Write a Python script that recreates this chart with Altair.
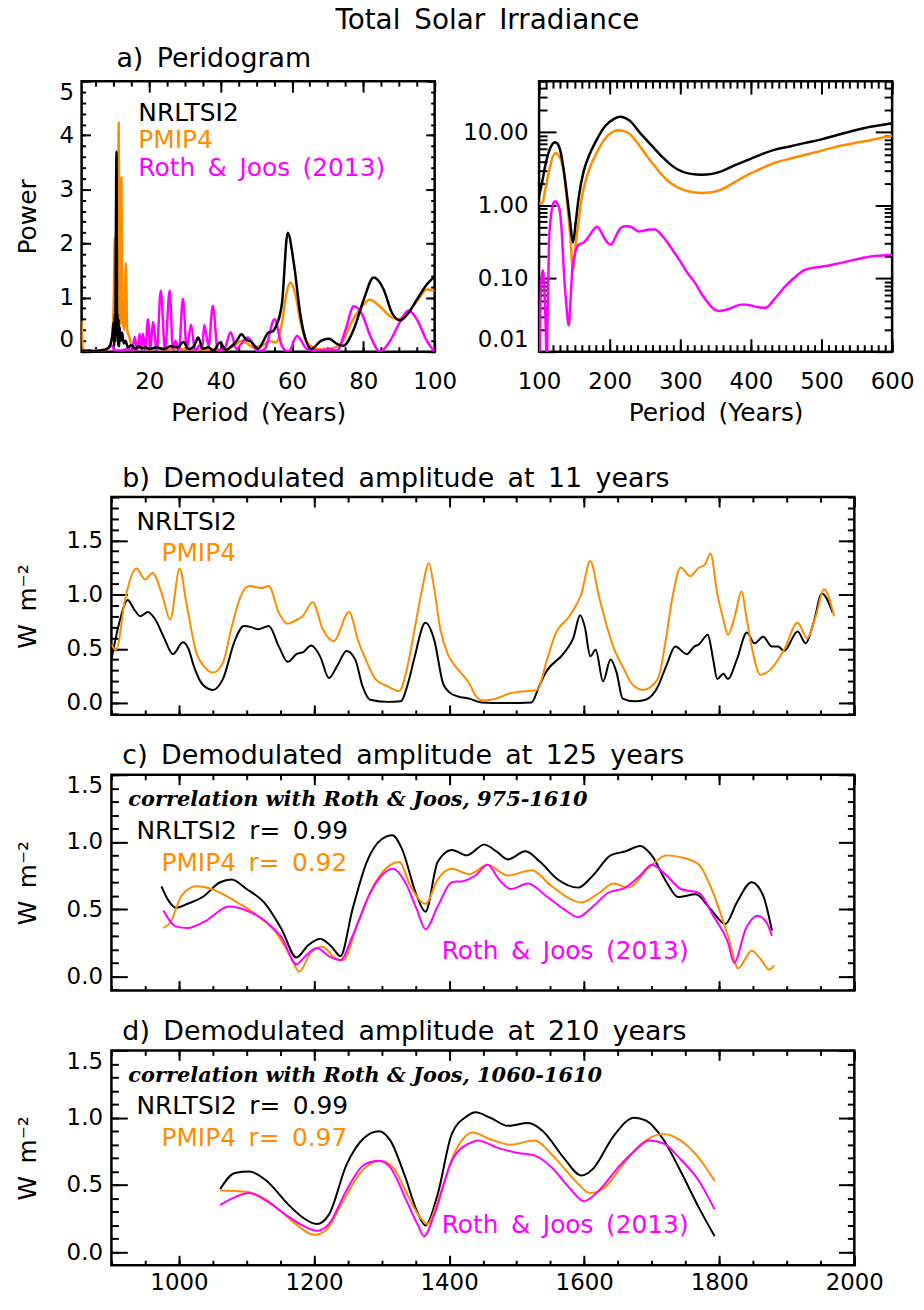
import altair as alt
import pandas as pd

# ---------------------------------------------------------------- data
SERIES = ["NRLTSI2", "PMIP4", "Roth & Joos (2013)"]
COLORS = ["#000000", "#FF8C00", "#FF00FF"]

# a) periodogram, periods 1-100 years: (period, power)
PA_NRL = [(1, 0.01), (3, 0.02), (5, 0.01), (7, 0.03), (8, 0.05), (9, 0.12), (9.6, 0.3),
          (10.0, 0.55), (10.15, 0.1), (10.3, 0.7), (10.45, 0.2), (10.6, 2.1), (10.8, 3.7),
          (10.95, 0.3), (11.1, 0.7), (11.25, 0.1), (11.4, 0.6), (11.55, 0.1), (11.7, 0.45),
          (12.0, 0.2), (12.4, 0.35), (12.8, 0.15), (13.3, 0.2), (14, 0.08), (15, 0.12),
          (16, 0.05), (17, 0.1), (18, 0.06), (19, 0.08), (20, 0.05), (22, 0.08), (24, 0.05),
          (26, 0.1), (28, 0.08), (29.5, 0.18), (31, 0.05), (32.5, 0.1), (33.7, 0.26),
          (35, 0.05), (36.5, 0.08), (38, 0.02), (39.8, 0.17), (41.5, 0.03), (43, 0.1),
          (44.5, 0.2), (45.8, 0.32), (47.2, 0.22), (48.6, 0.18), (50.5, 0.05), (52, 0.2),
          (53.3, 0.35), (54.7, 0.38), (55.4, 0.45), (57.2, 0.9), (58.8, 2.2), (60.5, 1.64),
          (62.4, 0.66), (63.8, 0.23), (65.4, 0.05), (68.1, 0.2), (70.4, 0.24), (72.7, 0.14),
          (74.4, 0.11), (77.3, 0.41), (80.1, 0.96), (82.9, 1.37), (85.7, 1.15), (88, 0.72),
          (90.3, 0.58), (92.7, 0.72), (95, 0.96), (97.8, 1.24), (100, 1.39)]
PA_PMIP = [(1, 0.57), (1.3, 0.1), (2, 0.02), (5, 0.02), (8, 0.05), (9.5, 0.2), (10.0, 0.9),
           (10.3, 2.1), (10.6, 0.5), (10.9, 1.0), (11.15, 0.4), (11.4, 4.23), (11.65, 0.8),
           (11.9, 0.5), (12.16, 3.22), (12.5, 0.6), (13.0, 0.4), (13.4, 1.64), (13.8, 0.4),
           (14.5, 0.25), (15, 0.1), (16, 0.05), (18, 0.08), (20, 0.04), (22, 0.06), (25, 0.04),
           (28, 0.06), (30, 0.04), (33, 0.05), (36, 0.03), (38, 0.05), (40, 0.03), (42, 0.05),
           (44, 0.12), (45.8, 0.2), (47.5, 0.15), (49, 0.08), (50.5, 0.1), (52, 0.12),
           (53.5, 0.2), (55.5, 0.17), (57.2, 0.54), (58.5, 1.1), (59.6, 1.28), (61, 1.05),
           (62.4, 0.54), (64.2, 0.17), (66, 0.08), (68, 0.04), (70, 0.05), (72.9, 0.1),
           (74.5, 0.22), (76.2, 0.48), (79, 0.78), (81.8, 0.96), (84.6, 0.84), (87.4, 0.66),
           (89.7, 0.6), (92.5, 0.72), (95.3, 0.96), (97.8, 1.15), (100, 1.12)]
PA_ROTH = [(1, 0.01), (4, 0.01), (8, 0.03), (9.5, 0.12), (10.2, 0.02), (12, 0.02), (14, 0.05),
           (15.2, 0.02), (15.9, 0.27), (16.6, 0.02), (17.3, 0.33), (17.75, 0.05), (18.2, 0.33),
           (18.9, 0.02), (19.6, 0.6), (20.3, 0.05), (21.0, 0.55), (22.1, 0.02), (23.2, 1.13),
           (24.4, 0.02), (25.7, 1.13), (26.6, 0.05), (27.3, 0.2), (28.3, 0.02), (29.4, 0.98),
           (30.5, 0.05), (31.7, 0.5), (32.8, 0.02), (34.2, 0.12), (34.8, 0.05), (35.4, 0.5),
           (36.6, 0.1), (37.8, 0.85), (39.2, 0.02), (41, 0.05), (42.8, 0.36), (44.4, 0.05),
           (45.8, 0.15), (47.6, 0.26), (50.5, 0.0), (52.4, 0.05), (55.1, 0.6), (57.2, 0.1),
           (59, 0.0), (61.4, 0.29), (64.2, 0.05), (66.9, 0.02), (70.7, 0.04), (72.6, 0.02),
           (75, 0.4), (77.3, 0.84), (79.6, 0.7), (81.9, 0.3), (84.7, 0.0), (87.5, 0.2),
           (90.3, 0.55), (92.7, 0.76), (95, 0.6), (97.8, 0.2), (100, 0.0)]

# a) periodogram, periods 100-600 years (log power)
PR_NRL = [(100, 1.34), (104, 2.0), (109, 3.6), (115, 5.8), (122.5, 7.3), (126, 7.0),
          (130.5, 5.4), (135, 3.0), (140, 1.26), (144, 0.6), (148, 0.31), (152, 0.6),
          (156, 1.26), (163, 2.9), (170, 4.6), (180, 7.4), (194, 12.3), (205, 15.0),
          (215, 16.3), (227, 14.7), (245.5, 9.2), (260, 6.5), (274, 4.66), (288, 3.5),
          (302, 2.92), (315, 2.7), (330, 2.63), (345, 2.7), (358, 2.92), (376, 3.5),
          (396, 4.2), (415, 5.0), (433, 5.74), (455, 6.4), (475.6, 7.1), (500, 8.0),
          (522.5, 9.2), (545, 10.5), (569.5, 11.9), (585, 12.6), (600, 13.3)]
PR_PMIP = [(100, 1.06), (104.7, 1.07), (109, 1.7), (114, 2.9), (118, 4.2), (123.5, 5.2),
           (128, 4.8), (133, 3.6), (137, 2.0), (140, 1.03), (144, 0.4), (148, 0.13),
           (152, 0.3), (156, 0.62), (160, 1.2), (165.7, 2.14), (172, 3.3), (180, 4.9),
           (194, 8.3), (212.7, 10.7), (227, 9.7), (240, 7.0), (255, 4.4), (270, 2.9),
           (283, 2.14), (297, 1.75), (311, 1.56), (330, 1.48), (345, 1.52), (358, 1.64),
           (376, 2.05), (396, 2.63), (415, 3.2), (433, 3.8), (455, 4.35), (475.6, 4.9),
           (500, 5.6), (522.5, 6.4), (545, 7.1), (569.5, 7.8), (585, 8.4), (600, 9.0)]
PR_ROTH = [(100, 0.005), (102, 0.05), (104, 0.11), (105.6, 0.13), (107.5, 0.07), (109.5, 0.02),
           (110.8, 0.005), (112, 0.03), (114, 0.29), (116, 0.6), (118.8, 0.97), (121, 1.1),
           (123.5, 1.14), (126, 1.05), (129, 0.88), (132, 0.45), (135, 0.13), (138.5, 0.045),
           (142, 0.023), (144.5, 0.05), (147, 0.13), (150, 0.2), (156, 0.29), (163, 0.31),
           (170, 0.37), (176, 0.45), (182, 0.51), (186, 0.47), (191.5, 0.37), (197, 0.31),
           (202, 0.29), (207, 0.35), (212.7, 0.45), (218, 0.51), (222, 0.52), (227, 0.52),
           (231.5, 0.50), (237, 0.46), (241, 0.44), (248, 0.45), (255, 0.47), (264, 0.47),
           (270, 0.43), (276, 0.37), (284, 0.29), (292.5, 0.22), (302, 0.16), (311, 0.116),
           (320, 0.09), (330, 0.062), (337, 0.05), (344, 0.041), (350, 0.037), (356, 0.036),
           (362, 0.037), (367.6, 0.038), (376, 0.041), (386, 0.044), (393, 0.044), (400, 0.043),
           (408, 0.041), (414.6, 0.04), (420, 0.04), (424, 0.041), (430, 0.048), (438, 0.059),
           (447, 0.075), (457, 0.094), (466, 0.112), (475.6, 0.13), (487, 0.14), (499, 0.145),
           (522.5, 0.16), (546, 0.18), (569.5, 0.2), (600, 0.21)]

# b) demodulated amplitude at 11 years: (year, W m-2)
B_NRL = [(900, 0.40), (912, 0.75), (924, 0.95), (934, 0.86), (943, 0.80), (954, 0.84),
         (965, 0.77), (978, 0.60), (991, 0.45), (1006, 0.56), (1014, 0.50), (1022, 0.34),
         (1035, 0.17), (1050, 0.12), (1065, 0.22), (1083, 0.58), (1096, 0.71), (1107, 0.70),
         (1117, 0.68), (1133, 0.71), (1148, 0.52), (1161, 0.38), (1174, 0.45), (1184, 0.47),
         (1196, 0.53), (1209, 0.43), (1222, 0.23), (1235, 0.35), (1248, 0.48), (1261, 0.40),
         (1272, 0.15), (1283, 0.03), (1309, 0.01), (1328, 0.015), (1340, 0.20), (1348, 0.40),
         (1365, 0.74), (1378, 0.58), (1391, 0.18), (1400, 0.10), (1413, 0.06), (1430, 0.04),
         (1448, 0.005), (1483, 0.0), (1522, 0.005), (1533, 0.15), (1543, 0.28), (1570, 0.46),
         (1584, 0.60), (1594, 0.81), (1601, 0.70), (1609, 0.43), (1617, 0.49), (1628, 0.20),
         (1639, 0.40), (1648, 0.28), (1657, 0.04), (1674, 0.015), (1691, 0.03), (1709, 0.15),
         (1722, 0.35), (1735, 0.52), (1752, 0.45), (1763, 0.52), (1770, 0.54), (1783, 0.63),
         (1791, 0.40), (1797, 0.22), (1806, 0.27), (1813, 0.22), (1826, 0.40), (1841, 0.65),
         (1852, 0.55), (1865, 0.61), (1878, 0.52), (1887, 0.52), (1896, 0.48), (1916, 0.66),
         (1928, 0.55), (1940, 0.75), (1952, 1.01), (1968, 0.83)]
B_PMIP = [(900, 0.54), (907, 0.49), (920, 0.95), (937, 1.24), (950, 1.14), (961, 1.20),
          (975, 1.00), (987, 0.77), (1001, 1.24), (1011, 0.92), (1026, 0.46), (1038, 0.33),
          (1050, 0.28), (1065, 0.37), (1078, 0.70), (1091, 0.98), (1104, 1.08), (1122, 1.06),
          (1133, 1.08), (1148, 0.83), (1161, 0.73), (1172, 0.76), (1183, 0.80), (1198, 0.93),
          (1213, 0.68), (1229, 0.57), (1252, 0.84), (1265, 0.58), (1278, 0.38), (1291, 0.22),
          (1310, 0.15), (1326, 0.11), (1337, 0.30), (1348, 0.65), (1360, 1.05), (1370, 1.29),
          (1378, 1.05), (1387, 0.68), (1398, 0.45), (1409, 0.34), (1420, 0.26), (1430, 0.18),
          (1439, 0.07), (1448, 0.025), (1462, 0.03), (1474, 0.05), (1490, 0.09), (1500, 0.10),
          (1530, 0.12), (1545, 0.40), (1557, 0.63), (1578, 0.80), (1596, 1.01), (1609, 1.31),
          (1622, 0.98), (1643, 0.52), (1660, 0.30), (1670, 0.18), (1687, 0.12), (1709, 0.22),
          (1720, 0.55), (1730, 0.95), (1743, 1.25), (1757, 1.17), (1770, 1.25), (1778, 1.27),
          (1787, 1.38), (1797, 1.01), (1805, 0.80), (1813, 0.63), (1823, 0.80), (1833, 1.03),
          (1840, 0.80), (1848, 0.52), (1861, 0.26), (1876, 0.31), (1896, 0.49), (1916, 0.74),
          (1930, 0.60), (1943, 0.80), (1955, 1.05), (1970, 0.80)]

# c) demodulated amplitude at 125 years
C_NRL = [(974, 0.67), (985, 0.56), (996, 0.51), (1013, 0.54), (1035, 0.59), (1061, 0.70),
         (1078, 0.72), (1100, 0.65), (1126, 0.55), (1152, 0.35), (1174, 0.14), (1191, 0.23),
         (1209, 0.28), (1226, 0.22), (1239, 0.15), (1257, 0.50), (1278, 0.85), (1300, 1.02),
         (1316, 1.05), (1330, 0.95), (1352, 0.60), (1365, 0.48), (1383, 0.85), (1404, 0.94),
         (1426, 0.90), (1452, 0.98), (1470, 0.93), (1487, 0.87), (1513, 0.93), (1535, 0.85),
         (1561, 0.72), (1591, 0.66), (1613, 0.75), (1639, 0.90), (1661, 0.93), (1683, 0.97),
         (1700, 0.90), (1722, 0.70), (1739, 0.59), (1765, 0.61), (1787, 0.50), (1809, 0.39),
         (1826, 0.55), (1848, 0.70), (1865, 0.60), (1878, 0.34)]
C_PMIP = [(977, 0.36), (987, 0.40), (1004, 0.60), (1026, 0.67), (1048, 0.65), (1083, 0.56),
          (1117, 0.45), (1143, 0.33), (1165, 0.15), (1178, 0.035), (1196, 0.18), (1213, 0.22),
          (1230, 0.14), (1243, 0.12), (1265, 0.40), (1291, 0.70), (1313, 0.83), (1326, 0.85),
          (1343, 0.67), (1365, 0.54), (1383, 0.72), (1404, 0.80), (1430, 0.76), (1457, 0.83),
          (1487, 0.75), (1522, 0.79), (1552, 0.67), (1596, 0.55), (1622, 0.62), (1643, 0.69),
          (1665, 0.66), (1696, 0.81), (1722, 0.90), (1748, 0.88), (1770, 0.83), (1791, 0.62),
          (1813, 0.30), (1828, 0.06), (1848, 0.19), (1861, 0.13), (1874, 0.05), (1881, 0.08)]
C_ROTH = [(977, 0.49), (996, 0.37), (1013, 0.36), (1039, 0.41), (1074, 0.52), (1100, 0.49),
          (1135, 0.38), (1152, 0.29), (1174, 0.09), (1187, 0.15), (1204, 0.21), (1222, 0.15),
          (1239, 0.12), (1257, 0.30), (1283, 0.62), (1300, 0.75), (1317, 0.80), (1335, 0.70),
          (1352, 0.50), (1365, 0.35), (1383, 0.52), (1404, 0.70), (1422, 0.71), (1439, 0.75),
          (1457, 0.83), (1474, 0.72), (1491, 0.65), (1517, 0.69), (1543, 0.60), (1570, 0.50),
          (1591, 0.44), (1613, 0.52), (1635, 0.62), (1661, 0.66), (1683, 0.75), (1700, 0.83),
          (1722, 0.75), (1743, 0.65), (1770, 0.62), (1791, 0.45), (1813, 0.25), (1822, 0.10),
          (1839, 0.35), (1857, 0.45), (1870, 0.40), (1878, 0.30)]

# d) demodulated amplitude at 210 years
D_NRL = [(1061, 0.47), (1083, 0.59), (1104, 0.60), (1130, 0.53), (1161, 0.36), (1183, 0.26),
         (1204, 0.21), (1222, 0.28), (1248, 0.65), (1274, 0.85), (1296, 0.90), (1313, 0.83),
         (1335, 0.56), (1352, 0.31), (1365, 0.20), (1383, 0.43), (1404, 0.88), (1426, 1.01),
         (1439, 1.04), (1461, 1.00), (1487, 0.94), (1517, 0.96), (1539, 0.90), (1570, 0.70),
         (1596, 0.57), (1613, 0.62), (1643, 0.86), (1674, 1.00), (1691, 0.98), (1717, 0.84),
         (1743, 0.60), (1770, 0.33), (1793, 0.12)]
D_PMIP = [(1061, 0.46), (1100, 0.45), (1126, 0.40), (1152, 0.30), (1178, 0.19), (1200, 0.13),
          (1217, 0.16), (1243, 0.38), (1270, 0.60), (1298, 0.68), (1317, 0.63), (1339, 0.42),
          (1357, 0.26), (1368, 0.21), (1383, 0.38), (1409, 0.75), (1435, 0.89), (1461, 0.84),
          (1491, 0.80), (1526, 0.83), (1557, 0.70), (1587, 0.53), (1609, 0.44), (1630, 0.48),
          (1657, 0.65), (1683, 0.80), (1717, 0.88), (1743, 0.83), (1770, 0.70), (1793, 0.53)]
D_ROTH = [(1061, 0.35), (1083, 0.41), (1104, 0.44), (1130, 0.38), (1161, 0.27), (1183, 0.20),
          (1204, 0.16), (1222, 0.21), (1248, 0.46), (1274, 0.65), (1296, 0.68), (1313, 0.63),
          (1339, 0.36), (1354, 0.20), (1363, 0.12), (1378, 0.28), (1404, 0.68), (1430, 0.81),
          (1443, 0.83), (1470, 0.78), (1500, 0.74), (1526, 0.72), (1552, 0.63), (1578, 0.48),
          (1600, 0.38), (1622, 0.46), (1652, 0.64), (1674, 0.75), (1696, 0.83), (1717, 0.81),
          (1743, 0.69), (1770, 0.53), (1793, 0.32)]

# tick values
A_X_MAJOR = [20, 40, 60, 80, 100]
A_Y_MAJOR = [0, 1, 2, 3, 4, 5]
R_X_MAJOR = [100, 200, 300, 400, 500, 600]
R_Y_MAJOR = [0.01, 0.1, 1, 10]
T_X_MAJOR = [1000, 1200, 1400, 1600, 1800, 2000]
T_Y_MAJOR = [0.0, 0.5, 1.0, 1.5]

# ---------------------------------------------------------------- style
FONT = "DejaVu Sans"
SERIF = "DejaVu Serif"
EN = "\u2002"
TXT = 25
TITLE_SIZE = 27


def steps(a, b, step):
    n = int(round((b - a) / step))
    return [round(a + i * step, 6) for i in range(n + 1)]


def log_minor(lo_exp, hi_exp, top):
    out = []
    for e in range(lo_exp, hi_exp + 1):
        for m in range(2, 10):
            v = m * 10.0 ** e
            if v <= top:
                out.append(round(v, 6))
    return out


def to_df(pairs):
    return pd.DataFrame({"x": [p[0] for p in pairs], "y": [p[1] for p in pairs]})


def ax(orient, values, size, labels=False, **kw):
    spec = dict(orient=orient, values=values, tickSize=size, offset=-size, domain=False,
                grid=False, labels=labels, ticks=True, tickWidth=2, tickColor="black",
                labelOverlap=False, title=None)
    spec.update(kw)
    return alt.Axis(**spec)


def words(*w):
    return EN.join(w)


def panel(series, xs, ys, dummy, lw, axes_main, axes_extra, texts):
    layers = []
    for i, (pairs, color) in enumerate(series):
        if i == 0:
            xa, ya = axes_main
        else:
            xa, ya = None, None
        layers.append(
            alt.Chart(to_df(pairs)).mark_line(interpolate="monotone", strokeWidth=lw,
                                              clip=True, color=color).encode(
                x=alt.X("x:Q", scale=xs, axis=xa),
                y=alt.Y("y:Q", scale=ys, axis=ya)))
    for xa, ya in axes_extra:
        layers.append(alt.Chart(dummy).mark_point(opacity=0).encode(
            x=alt.X("x:Q", scale=xs, axis=xa), y=alt.Y("y:Q", scale=ys, axis=ya)))
    for tdf, font, size, extra in texts:
        props = dict(align="left", baseline="middle", font=font, fontSize=size)
        props.update(extra)
        layers.append(alt.Chart(tdf).mark_text(**props).encode(
            x=alt.X("x:Q", scale=xs, axis=None), y=alt.Y("y:Q", scale=ys, axis=None),
            text="t:N", color=alt.Color("c:N", scale=None)))
    return alt.layer(*layers).resolve_axis(x="independent", y="independent")


def title_df(x, y, text):
    return pd.DataFrame({"x": [x], "y": [y], "t": [text], "c": ["#000000"]})


TITLE_MARK = (FONT, TITLE_SIZE, {"baseline": "alphabetic"})

# ---------------- panel a (left)
xa_s = alt.Scale(domain=[1, 100], nice=False, zero=False)
ya_s = alt.Scale(domain=[0, 5], nice=False, zero=False)
dum_a = pd.DataFrame({"x": [1], "y": [0]})
a_main = (ax("bottom", A_X_MAJOR, 11, labels=True, labelPadding=19, labelFlush=False,
             format="d", title=words("Period", "(Years)"), titlePadding=7),
          ax("left", A_Y_MAJOR, 9, labels=True, labelPadding=8, labelFlush=True,
             format="d", title="Power", titlePadding=19))
a_extra = [(ax("top", A_X_MAJOR, 11), ax("right", A_Y_MAJOR, 9)),
           (ax("bottom", steps(5, 100, 5), 5), ax("left", steps(0, 5, 0.2), 4)),
           (ax("top", steps(5, 100, 5), 5), ax("right", steps(0, 5, 0.2), 4))]
a_txt = pd.DataFrame({"x": [16.9, 16.9, 16.9], "y": [4.41, 3.92, 3.40],
                      "t": ["NRLTSI2", "PMIP4", words("Roth", "&", "Joos", "(2013)")],
                      "c": COLORS})
pa = panel([(PA_PMIP, COLORS[1]), (PA_ROTH, COLORS[2]), (PA_NRL, COLORS[0])],
           xa_s, ya_s, dum_a, 2.5, a_main, a_extra,
           [(a_txt, FONT, TXT, {}),
            (title_df(10.76, 5.267, words("a)", "Peridogram")),) + TITLE_MARK]
           ).properties(width=355, height=272)

# ---------------- panel a (right, log)
xr_s = alt.Scale(domain=[100, 600], nice=False, zero=False)
yr_s = alt.Scale(type="log", domain=[0.01, 50], nice=False)
dum_r = pd.DataFrame({"x": [100], "y": [0.01]})
r_main = (ax("bottom", R_X_MAJOR, 13, labels=True, labelPadding=19, labelFlush=False,
             format="d", title=words("Period", "(Years)"), titlePadding=7),
          ax("left", R_Y_MAJOR, 17, labels=True, labelPadding=11, labelFlush=True,
             format=".2f"))
r_minor_y = log_minor(-2, 1, 50)
r_extra = [(ax("top", R_X_MAJOR, 13), ax("right", R_Y_MAJOR, 17)),
           (ax("bottom", steps(100, 600, 10), 7), ax("left", r_minor_y, 8)),
           (ax("top", steps(100, 600, 10), 7), ax("right", r_minor_y, 8))]
pr = panel([(PR_PMIP, COLORS[1]), (PR_ROTH, COLORS[2]), (PR_NRL, COLORS[0])],
           xr_s, yr_s, dum_r, 2.5, r_main, r_extra,
           [(title_df(100, 78.7, "\u00a0"),) + TITLE_MARK]
           ).properties(width=355, height=272)

# ---------------- time panels b, c, d
xt_s = alt.Scale(domain=[900, 2000], nice=False, zero=False)
dum_t = pd.DataFrame({"x": [900], "y": [0]})
WM2 = "W" + EN + "m\u207b\u00b2"


def time_panel(series, ydom, height, texts, xlabels):
    ys = alt.Scale(domain=ydom, nice=False, zero=False)
    ymin = [v for v in steps(-0.1, 2.0, 0.1) if ydom[0] <= v <= ydom[1]]
    xmain = ax("bottom", T_X_MAJOR, 10, labels=xlabels, labelPadding=6, labelFlush=False,
               format="d")
    ymain = ax("left", T_Y_MAJOR, 16, labels=True, labelPadding=9, labelFlush=True,
               format=".1f", title=WM2, titlePadding=25.5)
    extra = [(ax("top", T_X_MAJOR, 10), ax("right", T_Y_MAJOR, 16)),
             (ax("bottom", steps(900, 2000, 50), 5), ax("left", ymin, 7)),
             (ax("top", steps(900, 2000, 50), 5), ax("right", ymin, 7))]
    return panel(series, xt_s, ys, dum_t, 2.0, (xmain, ymain), extra,
                 texts).properties(width=747, height=height)


def spacer():
    return alt.Chart(dum_t).mark_point(opacity=0).encode(
        x=alt.X("x:Q", axis=None), y=alt.Y("y:Q", axis=None)).properties(
        width=1, height=1, view=alt.ViewBackground(stroke="transparent", strokeWidth=0))


b_txt = pd.DataFrame({"x": [937, 974], "y": [1.67, 1.38], "t": ["NRLTSI2", "PMIP4"],
                      "c": COLORS[:2]})
pb = time_panel([(B_NRL, COLORS[0]), (B_PMIP, COLORS[1])], [-0.11, 1.9], 219,
                [(b_txt, FONT, TXT, {}),
                 (title_df(916.2, 1.992, words("b)", "Demodulated", "amplitude", "at", "11", "years")),) + TITLE_MARK],
                False)

ROTH_LBL = words("Roth", "&", "Joos", "(2013)")
c_txt = pd.DataFrame({"x": [937, 974, 1389], "y": [1.08, 0.84, 0.19],
                      "t": [words("NRLTSI2", "r=", "0.99"), words("PMIP4", "r=", "0.92"), ROTH_LBL],
                      "c": COLORS})
c_cor = title_df(925, 1.31, "correlation with Roth & Joos, 975-1610")
pc = time_panel([(C_NRL, COLORS[0]), (C_PMIP, COLORS[1]), (C_ROTH, COLORS[2])],
                [-0.106, 1.5], 217,
                [(c_txt, FONT, TXT, {}),
                 (c_cor, SERIF, 21, {"fontStyle": "italic", "fontWeight": "bold"}),
                 (title_df(916.2, 1.581, words("c)", "Demodulated", "amplitude", "at", "125", "years")),) + TITLE_MARK],
                False)

d_txt = pd.DataFrame({"x": [937, 974, 1389], "y": [1.086, 0.85, 0.20],
                      "t": [words("NRLTSI2", "r=", "0.99"), words("PMIP4", "r=", "0.97"), ROTH_LBL],
                      "c": COLORS})
d_cor = title_df(925, 1.31, "correlation with Roth & Joos, 1060-1610")
pd_ = time_panel([(D_NRL, COLORS[0]), (D_PMIP, COLORS[1]), (D_ROTH, COLORS[2])],
                 [-0.096, 1.5], 216,
                 [(d_txt, FONT, TXT, {}),
                  (d_cor, SERIF, 21, {"fontStyle": "italic", "fontWeight": "bold"}),
                  (title_df(916.2, 1.581, words("d)", "Demodulated", "amplitude", "at", "210", "years")),) + TITLE_MARK],
                 True)

# ---------------- main title row
main_title = alt.Chart(pd.DataFrame({"t": [words("Total", "Solar", "Irradiance")]})).mark_text(
    align="center", baseline="alphabetic", font=FONT, fontSize=28, color="black").encode(
    x=alt.value(480), y=alt.value(22.4), text="t:N").properties(
    width=1, height=1, view=alt.ViewBackground(stroke="transparent", strokeWidth=0))

top = alt.hconcat(spacer(), alt.hconcat(pa, pr, spacing=2), spacing=0)
upper = alt.vconcat(main_title, top, spacing=8)
lower = alt.vconcat(alt.hconcat(spacer(), pb, spacing=0),
                    alt.hconcat(spacer(), pc, spacing=0),
                    alt.hconcat(spacer(), pd_, spacing=0), spacing=22.2)
chart = alt.vconcat(upper, lower, spacing=36.2).properties(
    padding={"left": 0, "top": -5, "right": 0, "bottom": 5})

chart = chart.configure_view(stroke="black", strokeWidth=2.5).configure_axis(
    labelFont=FONT, labelFontSize=23, labelColor="black", titleFont=FONT, titleFontSize=25,
    titleFontWeight="normal", titleColor="black")

chart.save("out.html", embed_options={"renderer": "svg", "actions": False})
